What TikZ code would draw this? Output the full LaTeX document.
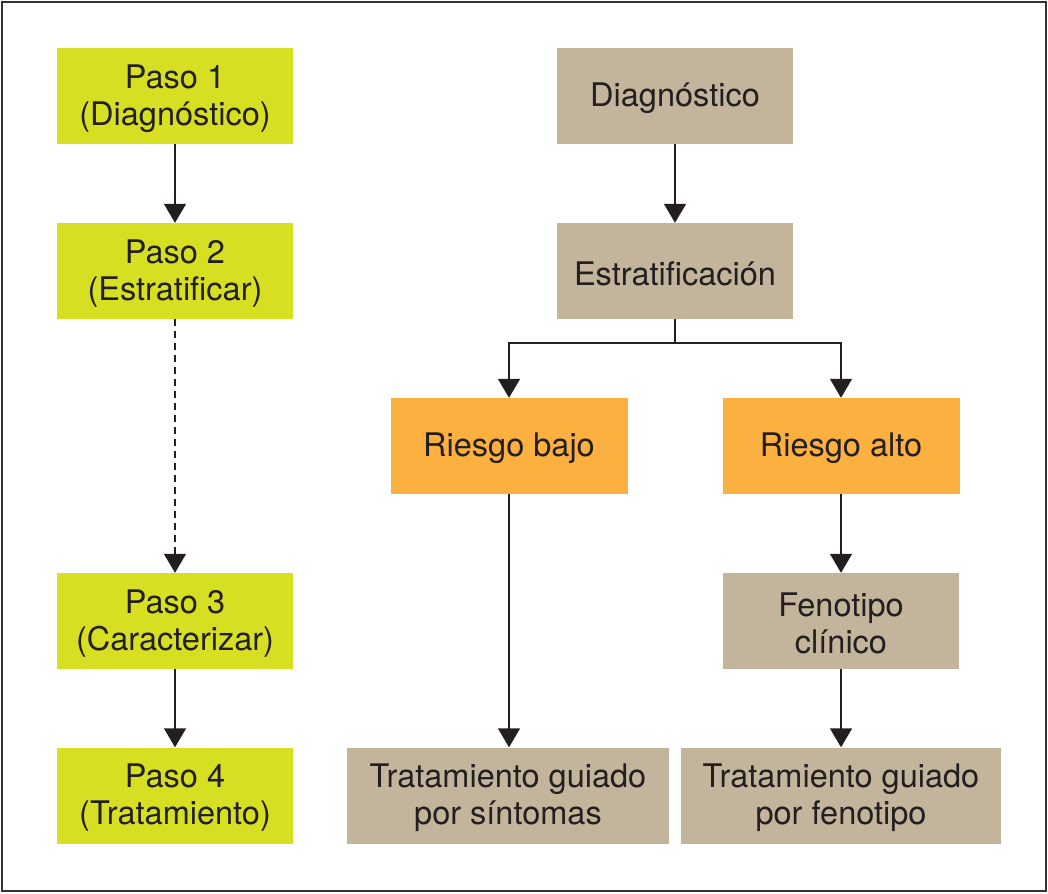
\documentclass[tikz,border=0pt]{standalone}
\usepackage{fontspec}
\setmainfont{TeX Gyre Heros}
\usetikzlibrary{arrows.meta}
\definecolor{lime}{HTML}{D7DF23}
\definecolor{tan}{HTML}{C2B59B}
\definecolor{orng}{HTML}{FBB040}
\definecolor{ink}{HTML}{231F20}
\tikzset{
  boxtext/.style={inner sep=0pt, align=center, text=ink,
    font=\fontsize{32.5}{37}\selectfont, yshift=-2.5pt},
  box/.style={inner sep=0pt, minimum height=96pt,
    label={[boxtext]center:{#1}}},
  stepbox/.style={box={#1}, fill=lime, minimum width=236pt},
  tanbox/.style={box={#1}, fill=tan, minimum width=236pt},
  riskbox/.style={box={#1}, fill=orng, minimum width=237pt},
  conn/.style={draw=ink, line width=1.6pt, -{Triangle[width=22pt,length=19pt]}},
  plainline/.style={draw=ink, line width=1.6pt}
}
\begin{document}
\begin{tikzpicture}[x=1pt,y=-1pt]
\useasboundingbox (0,0) rectangle (1048,893);
\draw[line width=2pt, draw=black!80] (2,2) rectangle (1046,891);
% left column
\node[stepbox={Paso 1\\(Diagnóstico)}] (p1) at (175,96) {};
\node[stepbox={Paso 2\\(Estratificar)}] (p2) at (175,271) {};
\node[stepbox={Paso 3\\(Caracterizar)}] (p3) at (175,621) {};
\node[stepbox={Paso 4\\(Tratamiento)}] (p4) at (175,795.5) {};
% right part
\node[tanbox={Diagnóstico}] (d) at (675,96) {};
\node[tanbox={Estratificación}] (e) at (675,271) {};
\node[riskbox={Riesgo bajo}] (rb) at (509,446) {};
\node[riskbox={Riesgo alto}] (ra) at (841,446) {};
\node[tanbox={Fenotipo\\clínico}] (f) at (841,621) {};
\node[tanbox={Tratamiento guiado\\por síntomas}, minimum width=322pt] (t1) at (508,795.5) {};
\node[tanbox={Tratamiento guiado\\por fenotipo}, minimum width=320pt] (t2) at (841,795.5) {};
\coordinate (br) at (675,343);
% connectors
\draw[conn] (p1) -- (p2);
\draw[conn, dash pattern=on 7pt off 5pt] (p2) -- (p3);
\draw[conn] (p3) -- (p4);
\draw[conn] (d) -- (e);
\draw[plainline] (e.south) -- (br);
\draw[conn] (br) -| (rb.north);
\draw[conn] (br) -| (ra.north);
\draw[conn] (rb.south) -- (rb.south |- t1.north);
\draw[conn] (ra) -- (f);
\draw[conn] (f) -- (f |- t2.north);
\end{tikzpicture}
\end{document}
